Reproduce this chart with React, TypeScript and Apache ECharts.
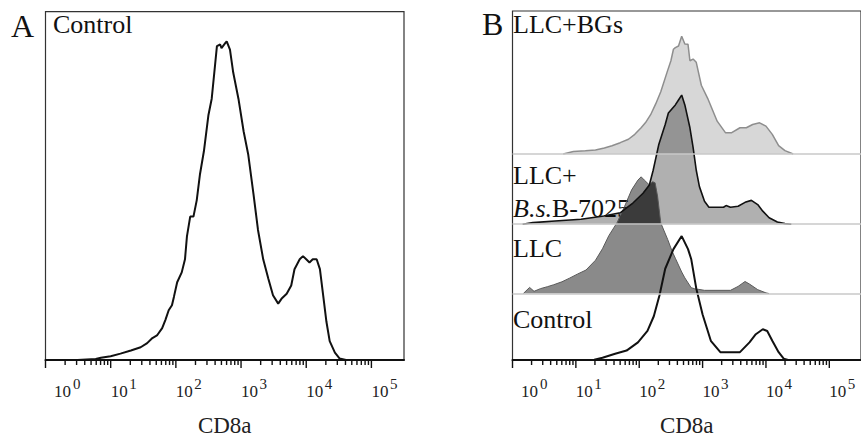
import React, { useEffect, useRef } from 'react';
import * as echarts from 'echarts';

// x values are log10(CD8a fluorescence); y values are event counts (arbitrary units)
const decades = [0, 1, 2, 3, 4, 5];
const decadeBase = '10';
const decadeSup = ['0', '1', '2', '3', '4', '5'];
const axisTitle = 'CD8a';

const controlA: number[][] = [
  [0.26, 0], [0.49, 0], [0.77, 0.3], [0.85, 0.7], [1.0, 1.2], [1.15, 2.0], [1.31, 3.0], [1.46, 4.0],
  [1.56, 5.3], [1.64, 6.9], [1.71, 7.7], [1.79, 10.0], [1.84, 12.6], [1.89, 15.6], [1.94, 17.2],
  [1.97, 19.8], [2.02, 24.4], [2.09, 27.5], [2.14, 31.6], [2.17, 38.8], [2.22, 45.0], [2.27, 45.0],
  [2.32, 50.1], [2.37, 58.3], [2.43, 65.5], [2.5, 76.9], [2.55, 82.0], [2.6, 92.3], [2.63, 98.5],
  [2.68, 99.0], [2.7, 97.9], [2.76, 99.5], [2.78, 100], [2.83, 97.4], [2.88, 90.2], [2.96, 82.0],
  [3.04, 71.7], [3.11, 64.5], [3.19, 52.2], [3.26, 40.8], [3.34, 31.6], [3.42, 25.4], [3.49, 20.3],
  [3.57, 17.7], [3.62, 19.2], [3.7, 20.8], [3.77, 23.4], [3.82, 28.5], [3.9, 31.6], [3.95, 32.6],
  [4.0, 31.6], [4.05, 30.6], [4.1, 31.6], [4.16, 31.6], [4.21, 28.5], [4.26, 20.3], [4.31, 12.0],
  [4.36, 5.9], [4.44, 2.3], [4.51, 0.5], [4.61, 0], [4.79, 0]
];

const llcBGs: number[][] = [
  [0.8, 0], [0.96, 2.4], [1.15, 3.2], [1.31, 4.0], [1.45, 6], [1.57, 8.4], [1.7, 11.5], [1.83, 15],
  [1.93, 20], [2.03, 26.7], [2.1, 32], [2.18, 40], [2.26, 51], [2.34, 63.4], [2.44, 83.4], [2.5, 95],
  [2.54, 106.7], [2.57, 108.4], [2.62, 110], [2.67, 120], [2.72, 112], [2.77, 111.7], [2.8, 95],
  [2.85, 96.7], [2.9, 93.4], [2.98, 70], [3.08, 56.7], [3.23, 33.4], [3.36, 21.7], [3.46, 21.7],
  [3.59, 26.7], [3.69, 26.7], [3.79, 30], [3.9, 31.7], [4.0, 28.4], [4.1, 20], [4.2, 8.4], [4.3, 3.4],
  [4.43, 0]
];

const llcBs: number[][] = [
  [0.16, 0], [0.32, 1.6], [0.67, 3.3], [1.08, 5], [1.44, 8.3], [1.7, 11.6], [1.8, 16.6], [1.9, 21.6],
  [2.06, 31.6], [2.16, 40], [2.22, 55], [2.31, 81.6], [2.41, 101.6], [2.46, 113.3], [2.57, 121.6],
  [2.62, 126.6], [2.67, 131.6], [2.72, 121.6], [2.8, 98.3], [2.85, 78.3], [2.9, 55], [2.95, 38.3],
  [3.03, 23.3], [3.1, 17.3], [3.33, 17.3], [3.37, 19], [3.44, 17.3], [3.56, 18.3], [3.67, 22.3],
  [3.77, 24.3], [3.87, 20], [3.95, 13.3], [4.05, 6.6], [4.18, 2.3], [4.3, 0.6], [4.4, 0]
];

const llc: number[][] = [
  [0.17, 0], [0.27, 6.3], [0.34, 2.3], [0.44, 5], [0.55, 7], [0.65, 9], [0.78, 12], [0.9, 15.7],
  [1.03, 20], [1.16, 24], [1.31, 34], [1.42, 45.7], [1.52, 59], [1.65, 72.3], [1.77, 89], [1.88, 105.7],
  [1.98, 115.7], [2.03, 119], [2.08, 115.7], [2.16, 110.7], [2.21, 114], [2.25, 113], [2.29, 99],
  [2.34, 72], [2.45, 55], [2.52, 43], [2.57, 36], [2.67, 22], [2.72, 16], [2.82, 6], [2.87, 5],
  [3.03, 3.3], [3.44, 3.3], [3.56, 7.3], [3.67, 12.3], [3.74, 9.7], [3.87, 4], [4.0, 0.7], [4.05, 0]
];

// part of the LLC histogram that lies over the LLC+B.s. histogram (height above the B.s. lane)
const llcOverBs: number[][] = [
  [1.65, 0], [1.73, 12.5], [1.8, 16.6], [1.9, 21.6], [2.06, 31.6], [2.13, 38], [2.16, 40],
  [2.21, 43.3], [2.25, 42], [2.29, 28.3], [2.34, 0]
];

const controlB: number[][] = [
  [1.29, 0.3], [1.42, 2.3], [1.62, 6.3], [1.8, 9.6], [1.98, 18], [2.13, 29.6], [2.23, 44.6],
  [2.32, 66], [2.41, 93], [2.54, 113], [2.67, 126.3], [2.77, 113], [2.82, 103], [2.9, 73], [3.0, 46.3],
  [3.13, 19.6], [3.28, 8], [3.59, 8], [3.74, 18], [3.84, 26.3], [3.95, 31.3], [4.02, 29.6], [4.1, 19.6],
  [4.2, 8], [4.28, 1.3], [4.35, 0]
];

const laneNames = ['LLC+BGs', 'LLC+', 'B-7025', 'LLC', 'Control'];

// lane baselines of the offset overlay (panel B)
const LANE = { control: 0, llc: 67.7, bs: 138.4, bgs: 210 };

const SERIF = "'Liberation Serif', 'Times New Roman', 'DejaVu Serif', serif";
const EN = '\u2002';

const shift = (d: number[][], off: number) => d.map(([x, y]) => [x, y + off]);

const tickData: number[][] = [];
decades.forEach((d) => {
  tickData.push([d, 1]);
  if (d < 5) for (let k = 2; k <= 9; k++) tickData.push([d + Math.log10(k), 0]);
});

// main axis: line + base "10" of each decade label
const makeX = (gridIndex: number) => ({
  type: 'value',
  gridIndex,
  min: 0,
  max: 5.5,
  interval: 1,
  axisLine: { show: true, onZero: false, lineStyle: { color: '#111', width: 2 } },
  axisTick: { show: false },
  splitLine: { show: false },
  axisLabel: {
    margin: 23,
    align: 'left',
    showMaxLabel: false,
    fontFamily: SERIF,
    fontSize: 17,
    color: '#222',
    formatter: (v: number) => {
      const i = decades.indexOf(v);
      if (i < 0) return '';
      return i === 0 ? EN + decadeBase : decadeBase;
    }
  },
  name: axisTitle,
  nameLocation: 'middle',
  nameGap: 54,
  nameTextStyle: { fontFamily: SERIF, fontSize: 23, color: '#222' }
});

// overlay axes carrying the raised exponent of each decade label
const makeSupX = (gridIndex: number, first: boolean) => ({
  type: 'value',
  gridIndex,
  position: 'bottom',
  min: 0,
  max: 5.5,
  interval: 1,
  axisLine: { show: false },
  axisTick: { show: false },
  splitLine: { show: false },
  axisLabel: {
    margin: 16,
    align: 'left',
    showMaxLabel: false,
    fontFamily: SERIF,
    fontSize: 15,
    color: '#222',
    padding: [0, 0, 0, first ? 27.5 : 18.5],
    formatter: (v: number) => {
      const i = decades.indexOf(v);
      if (i < 0) return '';
      if (first) return i === 0 ? decadeSup[i] : '';
      return i === 0 ? '' : decadeSup[i];
    }
  }
});

const tickSeries = (g: number) => ({
  type: 'custom',
  xAxisIndex: g,
  yAxisIndex: g,
  clip: false,
  silent: true,
  z: 10,
  data: tickData,
  encode: { x: 0, y: 1 },
  renderItem: (_p: any, api: any) => {
    const pt = api.coord([api.value(0), 0]);
    const len = api.value(1) === 1 ? 8 : 5;
    return {
      type: 'line',
      shape: { x1: pt[0], y1: pt[1], x2: pt[0], y2: pt[1] + len },
      style: { stroke: '#111', lineWidth: 1.4 }
    };
  }
});

const baseline = (v: number) => ({
  symbol: 'none',
  silent: true,
  label: { show: false },
  lineStyle: { color: '#c9c9c9', width: 1.5, type: 'solid' },
  data: [{ yAxis: v }]
});

const txt = (x: number, y: number, text: string, size: number, rich?: any) => ({
  type: 'text',
  x,
  y,
  silent: true,
  style: {
    text,
    fontFamily: SERIF,
    fontSize: size,
    fill: '#111',
    align: 'left',
    verticalAlign: 'middle',
    textAlign: 'left',
    textVerticalAlign: 'middle',
    rich
  }
});

const option: any = {
  animation: false,
  backgroundColor: '#fff',
  grid: [
    { left: 45.5, top: 11.7, right: 457, bottom: 75.3, show: true, borderColor: '#333', borderWidth: 1.2 },
    { left: 512.5, top: 11, right: -11.5, bottom: 75.3, show: true, borderColor: '#333', borderWidth: 1.2 }
  ],
  xAxis: [makeX(0), makeX(1), makeSupX(0, false), makeSupX(1, false), makeSupX(0, true), makeSupX(1, true)],
  yAxis: [
    { type: 'value', gridIndex: 0, min: 0, max: 109.3, show: false },
    { type: 'value', gridIndex: 1, min: 0, max: 355.7, show: false }
  ],
  graphic: [
    txt(11, 26, 'A', 32),
    txt(53, 24, 'Control', 26),
    txt(482, 24, 'B', 32),
    txt(513, 24, laneNames[0], 26),
    txt(513, 175, laneNames[1], 26),
    txt(513, 208, `{i|B.s.}${laneNames[2]}`, 26, {
      i: { fontFamily: SERIF, fontSize: 26, fontStyle: 'italic', fill: '#111' }
    }),
    txt(513, 248, laneNames[3], 26),
    txt(513, 319, laneNames[4], 26)
  ],
  series: [
    {
      type: 'line', xAxisIndex: 0, yAxisIndex: 0, data: controlA, symbol: 'none',
      lineStyle: { color: '#111', width: 2 }, z: 3
    },
    tickSeries(0),
    {
      type: 'line', xAxisIndex: 1, yAxisIndex: 1, data: shift(llcBGs, LANE.bgs), symbol: 'none',
      lineStyle: { color: '#8e8e8e', width: 1.5 },
      areaStyle: { color: '#d7d7d7', opacity: 1, origin: LANE.bgs },
      markLine: baseline(LANE.bgs), z: 2
    },
    {
      type: 'line', xAxisIndex: 1, yAxisIndex: 1, data: shift(llcBs, LANE.bs), symbol: 'none',
      lineStyle: { width: 0, opacity: 0 },
      areaStyle: { color: 'rgba(0,0,0,0.31)', opacity: 1, origin: LANE.bs },
      markLine: baseline(LANE.bs), z: 2
    },
    {
      type: 'line', xAxisIndex: 1, yAxisIndex: 1, data: shift(llc, LANE.llc), symbol: 'none',
      lineStyle: { color: '#5a5a5a', width: 1 },
      areaStyle: { color: 'rgba(0,0,0,0.46)', opacity: 1, origin: LANE.llc },
      markLine: baseline(LANE.llc), z: 2
    },
    {
      type: 'line', xAxisIndex: 1, yAxisIndex: 1, data: shift(llcOverBs, LANE.bs), symbol: 'none',
      lineStyle: { width: 0, opacity: 0 },
      areaStyle: { color: '#3b3b3b', opacity: 1, origin: LANE.bs }, z: 2
    },
    {
      type: 'line', xAxisIndex: 1, yAxisIndex: 1, data: shift(llcBs, LANE.bs), symbol: 'none',
      lineStyle: { color: '#111', width: 1.6 }, z: 3
    },
    {
      type: 'line', xAxisIndex: 1, yAxisIndex: 1, data: shift(controlB, LANE.control), symbol: 'none',
      lineStyle: { color: '#111', width: 2 }, z: 3
    },
    tickSeries(1)
  ]
};

export default function App() {
  const ref = useRef<HTMLDivElement>(null);
  useEffect(() => {
    if (!ref.current) return;
    const chart = echarts.init(ref.current, null, { renderer: 'svg' });
    chart.setOption(option);
    return () => chart.dispose();
  }, []);
  return (
    <div
      ref={ref}
      style={{ position: 'fixed', left: 0, top: 0, width: 861, height: 442, background: '#fff' }}
    />
  );
}
